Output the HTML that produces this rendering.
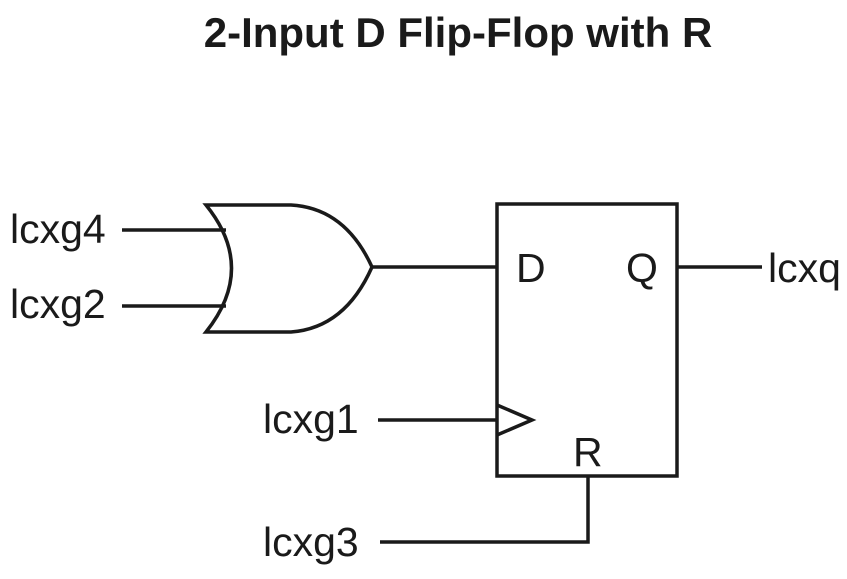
<!DOCTYPE html>
<html><head><style>
body{margin:0;background:#fff}
svg text{font-family:"Liberation Sans",Arial,sans-serif;fill:#1a1a1a}
</style></head><body>
<svg width="847" height="574" viewBox="0 0 847 574" xmlns="http://www.w3.org/2000/svg">
<text x="458" y="47" font-size="42" font-weight="bold" text-anchor="middle">2-Input D Flip-Flop with R</text>
<g stroke="#1a1a1a" stroke-width="3.5" fill="none">
<line x1="122" y1="230" x2="226" y2="230"/>
<line x1="122" y1="306" x2="226" y2="306"/>
<path d="M206,205 L291,205 Q345,208 372,267 Q345,328 291,332 L206,332 Q257,268 206,205 Z"/>
<line x1="372" y1="267" x2="497" y2="267"/>
<rect x="497" y="204" width="180" height="272"/>
<path d="M497,405 L532,420 L497,435"/>
<line x1="677" y1="267" x2="762" y2="267"/>
<line x1="378" y1="420" x2="497" y2="420"/>
<path d="M380,542 L588,542 L588,476"/>
</g>
<g font-size="41">
<text x="10" y="243">lcxg4</text>
<text x="10" y="318">lcxg2</text>
<text x="263" y="433">lcxg1</text>
<text x="263" y="556">lcxg3</text>
<text x="768" y="282">lcxq</text>
<text x="516" y="282">D</text>
<text x="626" y="282">Q</text>
<text x="573" y="466">R</text>
</g>
</svg>
</body></html>
